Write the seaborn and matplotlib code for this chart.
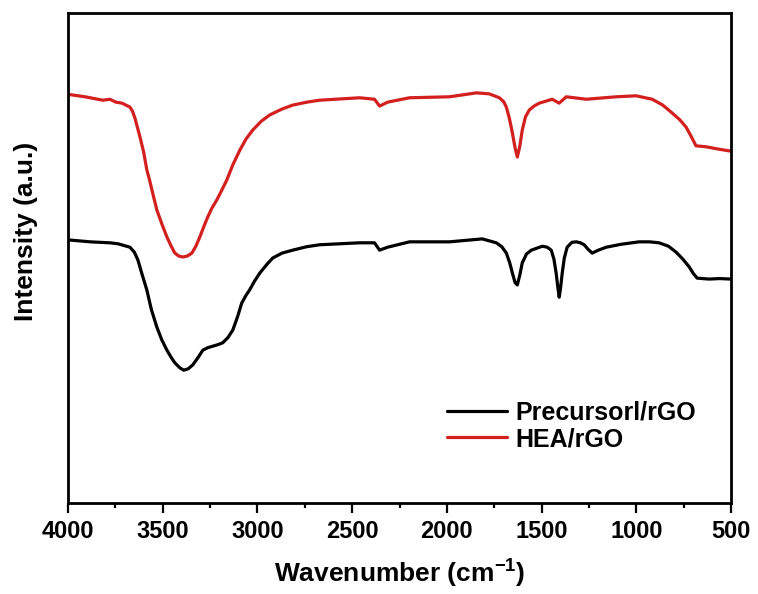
import numpy as np
import pandas as pd
import matplotlib
matplotlib.use("Agg")
import matplotlib.pyplot as plt
import seaborn as sns

# FTIR spectra: wavenumber (cm^-1) and transmittance-style intensity (a.u.)
hea_wavenumber = [4000, 3910, 3816, 3779, 3747, 3715, 3673, 3660, 3647, 3620,
                  3600, 3584, 3570, 3557, 3545, 3531, 3505, 3478, 3455, 3436,
                  3415, 3394, 3370, 3346, 3325, 3304, 3283, 3262, 3240, 3215,
                  3190, 3162, 3130, 3093, 3060, 3025, 2980, 2935, 2870, 2814,
                  2740, 2672, 2461, 2382, 2355, 2313, 2197, 1986, 1844, 1776,
                  1723, 1700, 1686, 1670, 1654, 1640, 1628, 1615, 1602, 1585,
                  1565, 1540, 1512, 1444, 1407, 1370, 1264, 1106, 1001, 916,
                  860, 811, 770, 737, 710, 685, 660, 632, 563, 500]
hea_intensity = [83.4, 82.9, 82.2, 82.4, 81.8, 81.6, 80.8, 80.0, 78.6, 74.7,
                 71.5, 68.0, 66.0, 63.9, 62.0, 59.8, 57.0, 54.3, 52.4, 51.0,
                 50.4, 50.2, 50.4, 51.0, 52.4, 54.3, 56.4, 58.4, 60.2, 61.8,
                 63.7, 65.9, 69.0, 72.0, 74.3, 76.1, 77.9, 79.2, 80.4, 81.2,
                 81.8, 82.2, 82.7, 82.4, 81.0, 81.8, 82.7, 82.9, 83.7, 83.5,
                 82.7, 81.9, 80.8, 78.5, 75.5, 72.5, 70.6, 72.8, 76.1, 78.8,
                 80.2, 81.0, 81.6, 82.4, 81.6, 82.9, 82.4, 82.9, 83.1, 82.4,
                 81.2, 79.6, 78.2, 76.7, 74.8, 72.9, 72.8, 72.7, 72.2, 71.8]

pre_wavenumber = [4000, 3884, 3779, 3736, 3673, 3650, 3631, 3610, 3584, 3560,
                  3531, 3505, 3478, 3455, 3436, 3410, 3389, 3365, 3341, 3315,
                  3288, 3262, 3236, 3210, 3183, 3155, 3130, 3105, 3083, 3060,
                  3041, 3015, 2988, 2950, 2919, 2870, 2814, 2740, 2672, 2461,
                  2382, 2355, 2313, 2197, 1986, 1813, 1739, 1710, 1686, 1668,
                  1654, 1640, 1628, 1615, 1602, 1580, 1554, 1496, 1470, 1449,
                  1435, 1423, 1414, 1407, 1400, 1391, 1380, 1365, 1340, 1317,
                  1295, 1275, 1255, 1233, 1200, 1159, 1080, 985, 930, 880,
                  830, 790, 755, 721, 700, 679, 650, 616, 560, 500]
pre_intensity = [53.7, 53.3, 53.1, 52.9, 52.2, 51.2, 49.6, 46.8, 43.5, 39.5,
                 35.9, 33.3, 31.2, 29.7, 28.6, 27.6, 27.1, 27.4, 28.2, 29.6,
                 31.2, 31.7, 32.0, 32.3, 32.7, 33.8, 35.3, 38.0, 40.8, 42.4,
                 43.5, 45.3, 46.9, 48.7, 50.0, 51.0, 51.6, 52.3, 52.7, 53.1,
                 53.1, 51.6, 52.2, 53.3, 53.3, 53.9, 53.1, 52.3, 51.0, 49.0,
                 46.9, 45.0, 44.5, 46.5, 49.0, 50.8, 51.6, 52.4, 52.2, 51.6,
                 49.8, 46.9, 44.0, 42.0, 43.8, 46.9, 50.0, 52.2, 53.2, 53.3,
                 53.1, 52.7, 51.8, 51.0, 51.6, 52.2, 52.8, 53.3, 53.3, 53.1,
                 52.4, 51.2, 49.8, 48.2, 46.9, 45.9, 45.8, 45.7, 45.8, 45.7]

series_names = ["Precursorl/rGO", "HEA/rGO"]
series_colors = ["#000000", "#d41f1f"]
x_ticks = [4000, 3500, 3000, 2500, 2000, 1500, 1000, 500]

df = pd.concat([
    pd.DataFrame({"wavenumber": pre_wavenumber, "intensity": pre_intensity,
                  "sample": series_names[0]}),
    pd.DataFrame({"wavenumber": hea_wavenumber, "intensity": hea_intensity,
                  "sample": series_names[1]}),
], ignore_index=True)

sns.set_theme(style="ticks")
plt.rcParams["font.family"] = ["Liberation Sans", "DejaVu Sans"]
plt.rcParams["font.weight"] = "bold"
plt.rcParams["mathtext.default"] = "regular"
plt.rcParams["text.color"] = "black"
plt.rcParams["axes.labelcolor"] = "black"
plt.rcParams["xtick.color"] = "black"
plt.rcParams["ytick.color"] = "black"

fig = plt.figure(figsize=(7.58, 5.94), dpi=100)
ax = fig.add_axes([68 / 758, 1 - 503 / 594, 663 / 758, 490 / 594])

sns.lineplot(data=df, x="wavenumber", y="intensity", hue="sample",
             hue_order=series_names, palette=series_colors, estimator=None,
             sort=False, linewidth=2.3, ax=ax)
for line in ax.get_lines():
    line.set_solid_joinstyle("round")
    line.set_solid_capstyle("round")

ax.set_xlim(4000, 500)
ax.set_ylim(0, 100)
ax.set_xticks(x_ticks)
ax.set_xticklabels([str(t) for t in x_ticks])
ax.xaxis.set_minor_locator(matplotlib.ticker.MultipleLocator(250))
ax.set_yticks([])

for side in ["left", "right", "top", "bottom"]:
    ax.spines[side].set_visible(True)
    ax.spines[side].set_linewidth(2.0)
    ax.spines[side].set_color("black")

ax.tick_params(axis="x", which="major", direction="out", length=7.2,
               width=1.6, pad=5, labelsize=17, colors="black")
ax.tick_params(axis="x", which="minor", direction="out", length=3.6,
               width=1.6)
for lab in ax.get_xticklabels():
    lab.set_fontweight("bold")
    lab.set_color("black")

ax.set_xlabel("Wavenumber (cm$^{-1}$)", fontsize=19, fontweight="bold",
              labelpad=11, color="black")
ax.set_ylabel("Intensity (a.u.)", fontsize=19, fontweight="bold",
              color="black")
ax.yaxis.set_label_coords(-0.045, 0.555)

leg = ax.legend(loc="upper left", bbox_to_anchor=(0.572, 0.209),
                frameon=False, fontsize=18, handlelength=2.4,
                handletextpad=0.32, labelspacing=0.1, borderpad=0,
                borderaxespad=0)
for txt in leg.get_texts():
    txt.set_fontweight("bold")
    txt.set_color("black")
for line in leg.get_lines():
    line.set_linewidth(2.3)

fig.savefig("out.png", dpi=100)
